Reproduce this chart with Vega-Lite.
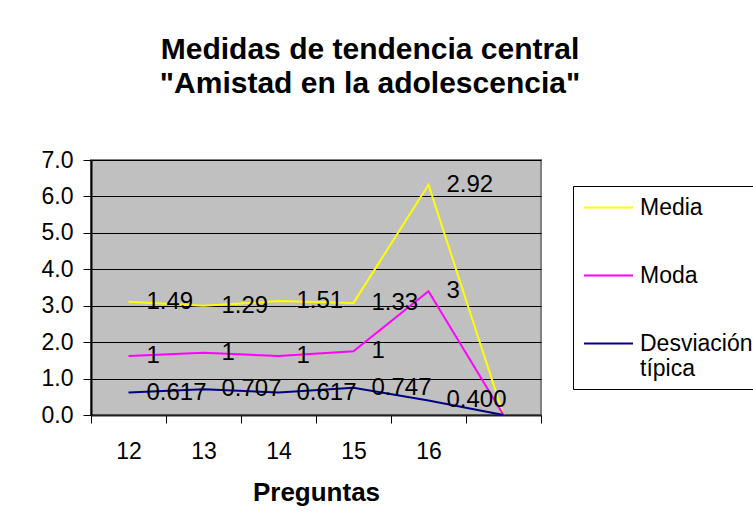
{
  "$schema": "https://vega.github.io/schema/vega-lite/v6.json",
  "width": 450,
  "height": 255,
  "autosize": {"type": "none"},
  "padding": {"left": 91, "top": 160, "right": 212, "bottom": 114},
  "background": "white",
  "title": {
    "text": ["Medidas de tendencia central", "\"Amistad en la adolescencia\""],
    "font": "Liberation Sans",
    "fontSize": 30,
    "fontWeight": "bold",
    "color": "black",
    "lineHeight": 34,
    "anchor": "middle",
    "frame": "group",
    "dx": 54,
    "offset": 50
  },
  "config": {
    "view": {"fill": "#C0C0C0", "stroke": "#808080", "strokeWidth": 2},
    "font": "Liberation Sans"
  },
  "data": {
    "values": [
      {"pregunta": "12", "serie": "Media", "valor": 1.49},
      {"pregunta": "13", "serie": "Media", "valor": 1.29},
      {"pregunta": "14", "serie": "Media", "valor": 1.51},
      {"pregunta": "15", "serie": "Media", "valor": 1.33},
      {"pregunta": "16", "serie": "Media", "valor": 2.92},
      {"pregunta": "", "serie": "Media", "valor": 0},
      {"pregunta": "12", "serie": "Moda", "valor": 1},
      {"pregunta": "13", "serie": "Moda", "valor": 1},
      {"pregunta": "14", "serie": "Moda", "valor": 1},
      {"pregunta": "15", "serie": "Moda", "valor": 1},
      {"pregunta": "16", "serie": "Moda", "valor": 3},
      {"pregunta": "", "serie": "Moda", "valor": 0},
      {"pregunta": "12", "serie": "Desviación típica", "valor": 0.617},
      {"pregunta": "13", "serie": "Desviación típica", "valor": 0.707},
      {"pregunta": "14", "serie": "Desviación típica", "valor": 0.617},
      {"pregunta": "15", "serie": "Desviación típica", "valor": 0.747},
      {"pregunta": "16", "serie": "Desviación típica", "valor": 0.4},
      {"pregunta": "", "serie": "Desviación típica", "valor": 0}
    ]
  },
  "transform": [
    {"calculate": "indexof(['Desviación típica','Moda','Media'], datum.serie)", "as": "orden"},
    {"calculate": "indexof(['12','13','14','15','16',''], datum.pregunta)", "as": "posx"},
    {"stack": "valor", "groupby": ["pregunta"], "sort": [{"field": "orden", "order": "ascending"}], "as": ["base", "acum"]},
    {"calculate": "datum.serie == 'Media' ? format(datum.valor, '.2f') : datum.serie == 'Moda' ? format(datum.valor, 'd') : format(datum.valor, '.3f')", "as": "etiqueta"}
  ],
  "encoding": {
    "x": {
      "field": "pregunta",
      "type": "ordinal",
      "scale": {"type": "band", "domain": ["12", "13", "14", "15", "16", ""], "paddingInner": 0, "paddingOuter": 0},
      "title": "Preguntas",
      "axis": {
        "tickBand": "extent",
        "labelAngle": 0,
        "domainColor": "#202020",
        "domainWidth": 2,
        "tickColor": "black",
        "tickSize": 8,
        "labelFontSize": 23,
        "labelColor": "black",
        "labelPadding": 17,
        "titleFontSize": 26,
        "titleFontWeight": "bold",
        "titleColor": "black",
        "titlePadding": 16,
        "grid": false
      }
    },
    "y": {
      "field": "acum",
      "type": "quantitative",
      "scale": {"domain": [0, 7], "nice": false},
      "title": null,
      "axis": {
        "values": [0, 1, 2, 3, 4, 5, 6, 7],
        "format": ".1f",
        "grid": true,
        "gridColor": "black",
        "gridOpacity": 1,
        "gridWidth": 1,
        "domainColor": "black",
        "domainWidth": 2,
        "tickColor": "black",
        "tickSize": 8,
        "labelFontSize": 23,
        "labelColor": "black",
        "labelPadding": 10
      }
    }
  },
  "layer": [
    {
      "mark": {"type": "line", "strokeWidth": 2},
      "encoding": {
        "order": {"field": "posx", "type": "quantitative"},
        "color": {
          "field": "serie",
          "type": "nominal",
          "scale": {"domain": ["Media", "Moda", "Desviación típica"], "range": ["#FFFF00", "#FF00FF", "#000080"]},
          "legend": {
            "orient": "none",
            "legendX": 482,
            "legendY": 26,
            "title": null,
            "strokeColor": "black",
            "fillColor": "white",
            "padding": 8,
            "symbolType": "M-2,0H2",
            "symbolSize": 600,
            "symbolStrokeWidth": 2,
            "symbolOffset": 14,
            "labelFontSize": 23,
            "labelColor": "black",
            "labelLimit": 400,
            "labelOffset": 18,
            "rowPadding": 42,
            "labelExpr": "datum.label == 'Desviación típica' ? ['Desviación', 'típica'] : datum.label"
          }
        }
      }
    },
    {
      "transform": [{"filter": "datum.pregunta != ''"}],
      "mark": {"type": "text", "align": "left", "baseline": "middle", "dx": 18, "fontSize": 24, "color": "black"},
      "encoding": {"text": {"field": "etiqueta", "type": "nominal"}}
    }
  ]
}
